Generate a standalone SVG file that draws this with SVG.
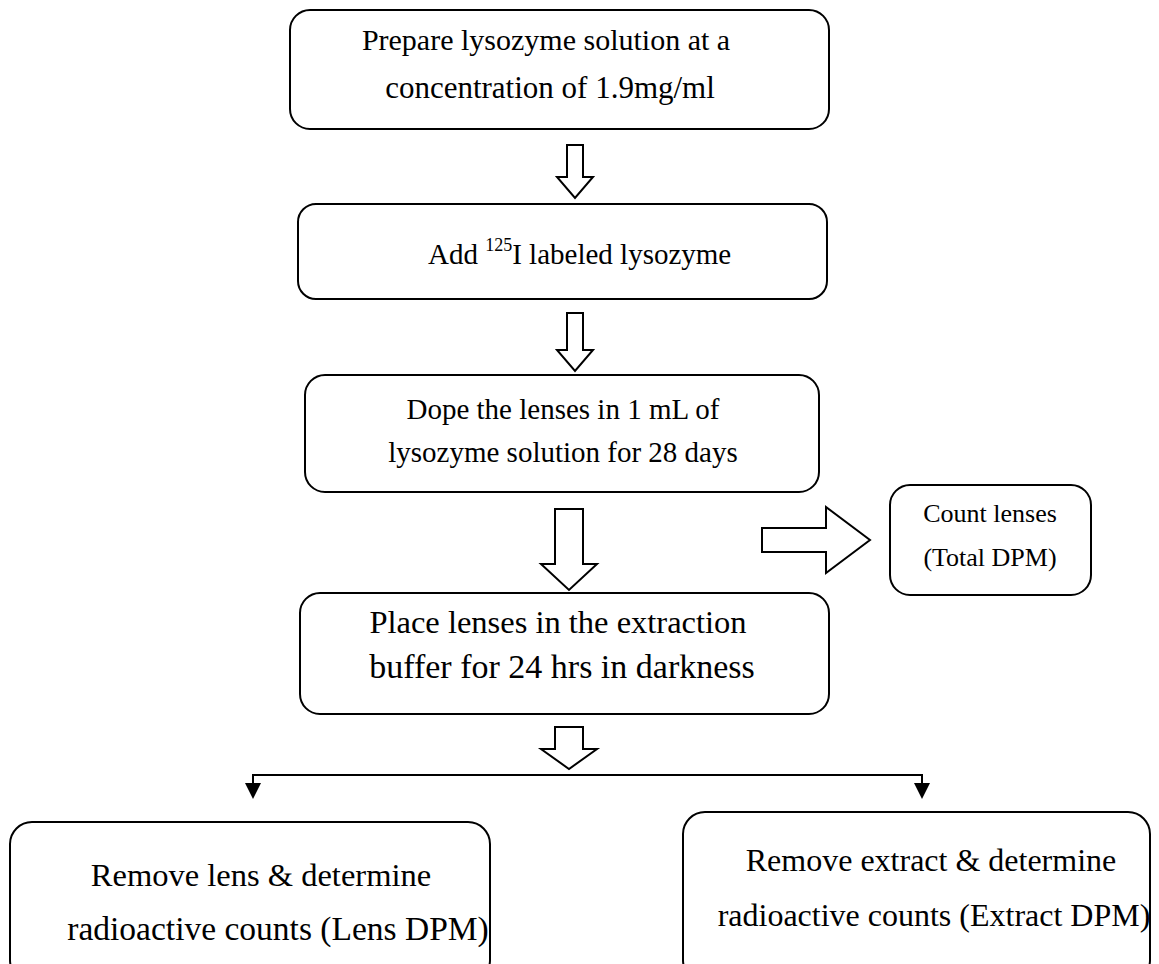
<svg xmlns="http://www.w3.org/2000/svg" width="1159" height="964" viewBox="0 0 1159 964">
<style>
.box{fill:#fff;stroke:#000;stroke-width:2}
.barrow{fill:#fff;stroke:#000;stroke-width:2;stroke-linejoin:miter}
.t{font-family:"Liberation Serif","Times New Roman",serif;fill:#000}
.m{text-anchor:middle}
.line{fill:none;stroke:#000;stroke-width:2}
.head{fill:#000}
</style>
<g id="n1">
<rect class="box" x="290" y="10" width="539" height="119" rx="20"/>
<text class="t m" x="546" y="50" style="font-size:30px">Prepare lysozyme solution at a</text>
<text class="t m" x="550" y="98" style="font-size:31px">concentration of 1.9mg/ml</text>
</g>
<g id="n2">
<rect class="box" x="298" y="204" width="529" height="95" rx="18"/>
<text class="t" x="428" y="264" style="font-size:29px">Add <tspan style="font-size:18px" dy="-13">125</tspan><tspan dy="13">I labeled lysozyme</tspan></text>
</g>
<g id="n3">
<rect class="box" x="305" y="375" width="514" height="117" rx="20"/>
<text class="t m" x="563" y="419" style="font-size:29px">Dope the lenses in 1 mL of</text>
<text class="t m" x="563" y="462" style="font-size:29px">lysozyme solution for 28 days</text>
</g>
<g id="n4">
<rect class="box" x="300" y="593" width="529" height="121" rx="20"/>
<text class="t m" x="558" y="633" style="font-size:32.5px">Place lenses in the extraction</text>
<text class="t m" x="562" y="678" style="font-size:34px">buffer for 24 hrs in darkness</text>
</g>
<g id="n5">
<rect class="box" x="890" y="485" width="201" height="110" rx="20"/>
<text class="t m" x="990" y="522" style="font-size:26px">Count lenses</text>
<text class="t m" x="990" y="566" style="font-size:26px">(Total DPM)</text>
</g>
<g id="n6">
<rect class="box" x="10" y="822" width="480" height="160" rx="22"/>
<text class="t m" x="261" y="886" style="font-size:32.5px">Remove lens &amp; determine</text>
<text class="t m" x="278" y="940" style="font-size:33.5px">radioactive counts (Lens DPM)</text>
</g>
<g id="n7">
<rect class="box" x="683" y="812" width="467" height="170" rx="22"/>
<text class="t m" x="931" y="871" style="font-size:32px">Remove extract &amp; determine</text>
<text class="t m" x="934" y="926" style="font-size:32px">radioactive counts (Extract DPM)</text>
</g>
<g id="connectors">
<polygon class="barrow" points="567,145 583,145 583,177 593,177 575,198 557,177 567,177"/>
<polygon class="barrow" points="567,313 583,313 583,350 593,350 575,371 557,350 567,350"/>
<polygon class="barrow" points="555,509 583,509 583,564 597,564 569,590 541,564 555,564"/>
<polygon class="barrow" points="555,727 583,727 583,749 597,749 569,769 541,749 555,749"/>
<polygon class="barrow" points="762,528 826,528 826,507 870,540 826,573 826,552 762,552"/>
<polyline class="line" points="253,797 253,775 922,775 922,797"/>
<polygon class="head" points="245,783 261,783 253,799"/>
<polygon class="head" points="914,783 930,783 922,799"/>
</g>
</svg>
